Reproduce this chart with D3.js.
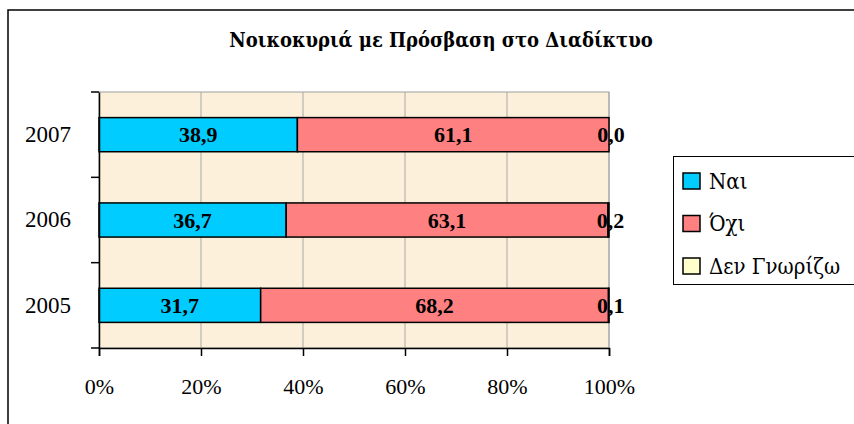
<!DOCTYPE html>
<html>
<head>
<meta charset="utf-8">
<script src="https://cdn.jsdelivr.net/npm/d3@7"></script>
<style>
  body { margin: 0; background: #fff; }
  svg { display: block; font-family: "Liberation Serif", "Times New Roman", serif; }
  .greek { font-family: "DejaVu Serif Condensed", "DejaVu Serif", serif; }
</style>
</head>
<body>
<div class="chart"></div>
<script>
const years = ["2007", "2006", "2005"];
const nai = [38.9, 36.7, 31.7];
const oxi = [61.1, 63.1, 68.2];
const denGnorizo = [0.0, 0.2, 0.1];
const seriesNames = ["Ναι", "Όχι", "Δεν Γνωρίζω"];
const seriesColors = ["#00ccff", "#ff8080", "#ffffcc"];
const xTicks = [0, 20, 40, 60, 80, 100];
const title = "Νοικοκυριά με Πρόσβαση στο Διαδίκτυο";

function drawChart() {
    const width = 854, height = 424;
    const plot = { left: 99, right: 609, top: 92, bottom: 348 };

    const svg = d3.select(".chart").append("svg")
        .attr("width", width)
        .attr("height", height);

    // outer frame (runs off right and bottom edge)
    svg.append("rect")
        .attr("x", 8).attr("y", 10)
        .attr("width", 900).attr("height", 500)
        .attr("fill", "#fff")
        .attr("stroke", "#000")
        .attr("stroke-width", 1.5);

    svg.append("text")
        .attr("class", "greek")
        .attr("x", 441).attr("y", 47)
        .attr("text-anchor", "middle")
        .style("font-weight", "bold")
        .style("font-size", "20px")
        .text(title);

    const x = d3.scaleLinear().domain([0, 100]).range([plot.left, plot.right]);
    const y = d3.scaleBand().domain(years)
        .range([plot.top, plot.bottom])
        .paddingInner(0.6).paddingOuter(0.3);

    // plot background
    svg.append("rect")
        .attr("x", plot.left).attr("y", plot.top)
        .attr("width", plot.right - plot.left)
        .attr("height", plot.bottom - plot.top)
        .attr("fill", "#fcf0da")
        .attr("stroke", "#a0a0a0");

    // vertical gridlines
    svg.append("g")
        .selectAll("line")
        .data(xTicks.slice(1))
        .join("line")
        .attr("x1", d => x(d)).attr("x2", d => x(d))
        .attr("y1", plot.top).attr("y2", plot.bottom)
        .attr("stroke", "#a8a8a8")
        .attr("stroke-width", 1);

    // stacked data
    const rows = years.map((yr, i) => ({ year: yr, v: [nai[i], oxi[i], denGnorizo[i]] }));
    const segs = [];
    rows.forEach(r => {
        let acc = 0;
        r.v.forEach((val, k) => {
            segs.push({ year: r.year, k: k, x0: acc, x1: acc + val, val: val });
            acc += val;
        });
    });

    svg.append("g")
        .selectAll("rect")
        .data(segs)
        .join("rect")
        .attr("x", d => x(d.x0))
        .attr("y", d => y(d.year))
        .attr("width", d => x(d.x1) - x(d.x0))
        .attr("height", y.bandwidth())
        .attr("fill", d => seriesColors[d.k])
        .attr("stroke", "#000")
        .attr("stroke-width", 1.5);

    const fmt = v => v.toFixed(1).replace(".", ",");
    svg.append("g")
        .selectAll("text")
        .data(segs)
        .join("text")
        .attr("x", d => x((d.x0 + d.x1) / 2) + (d.k === 2 ? 2 : 0))
        .attr("y", d => y(d.year) + y.bandwidth() / 2)
        .attr("dy", "0.35em")
        .attr("text-anchor", "middle")
        .style("font-weight", "bold")
        .style("font-size", "22px")
        .text(d => fmt(d.val));

    // x axis
    const xAxis = svg.append("g")
        .attr("transform", `translate(0,${plot.bottom})`)
        .call(d3.axisBottom(x).tickValues(xTicks).tickSize(8).tickPadding(22)
            .tickFormat(d => d + "%"))
        .attr("font-family", null)
        .attr("font-size", null);
    xAxis.select(".domain").attr("stroke", "#000").attr("stroke-width", 1.5);
    xAxis.selectAll(".tick line").attr("stroke", "#000").attr("stroke-width", 1.5);
    xAxis.selectAll("text").style("font-size", "22px").attr("fill", "#000");

    // y axis
    const yAxis = svg.append("g")
        .attr("transform", `translate(${plot.left},0)`)
        .call(d3.axisLeft(y).tickSize(0).tickPadding(28))
        .attr("font-family", null)
        .attr("font-size", null);
    yAxis.select(".domain").attr("stroke", "#000").attr("stroke-width", 1.5);
    yAxis.selectAll("text").style("font-size", "23px").attr("fill", "#000");

    const bounds = d3.range(years.length + 1).map(i => plot.top + i * y.step());
    yAxis.selectAll(".bound")
        .data(bounds)
        .join("line")
        .attr("class", "bound")
        .attr("x1", -8).attr("x2", 0)
        .attr("y1", d => d).attr("y2", d => d)
        .attr("stroke", "#000")
        .attr("stroke-width", 1.5);

    // legend
    const legend = svg.append("g");
    legend.append("rect")
        .attr("x", 673.5).attr("y", 156.5)
        .attr("width", 200).attr("height", 128)
        .attr("fill", "#fff")
        .attr("stroke", "#000");

    const item = legend.selectAll(".item")
        .data(seriesNames)
        .join("g")
        .attr("class", "item")
        .attr("transform", (d, i) => `translate(683,${181 + i * 42.5})`);
    item.append("rect")
        .attr("x", 0).attr("y", -8)
        .attr("width", 17).attr("height", 16)
        .attr("fill", (d, i) => seriesColors[i])
        .attr("stroke", "#000")
        .attr("stroke-width", 1.5);
    item.append("text")
        .attr("class", "greek")
        .attr("x", 26).attr("y", 0)
        .attr("dy", "0.35em")
        .style("font-size", "22px")
        .text(d => d);
}

drawChart();
</script>
</body>
</html>
